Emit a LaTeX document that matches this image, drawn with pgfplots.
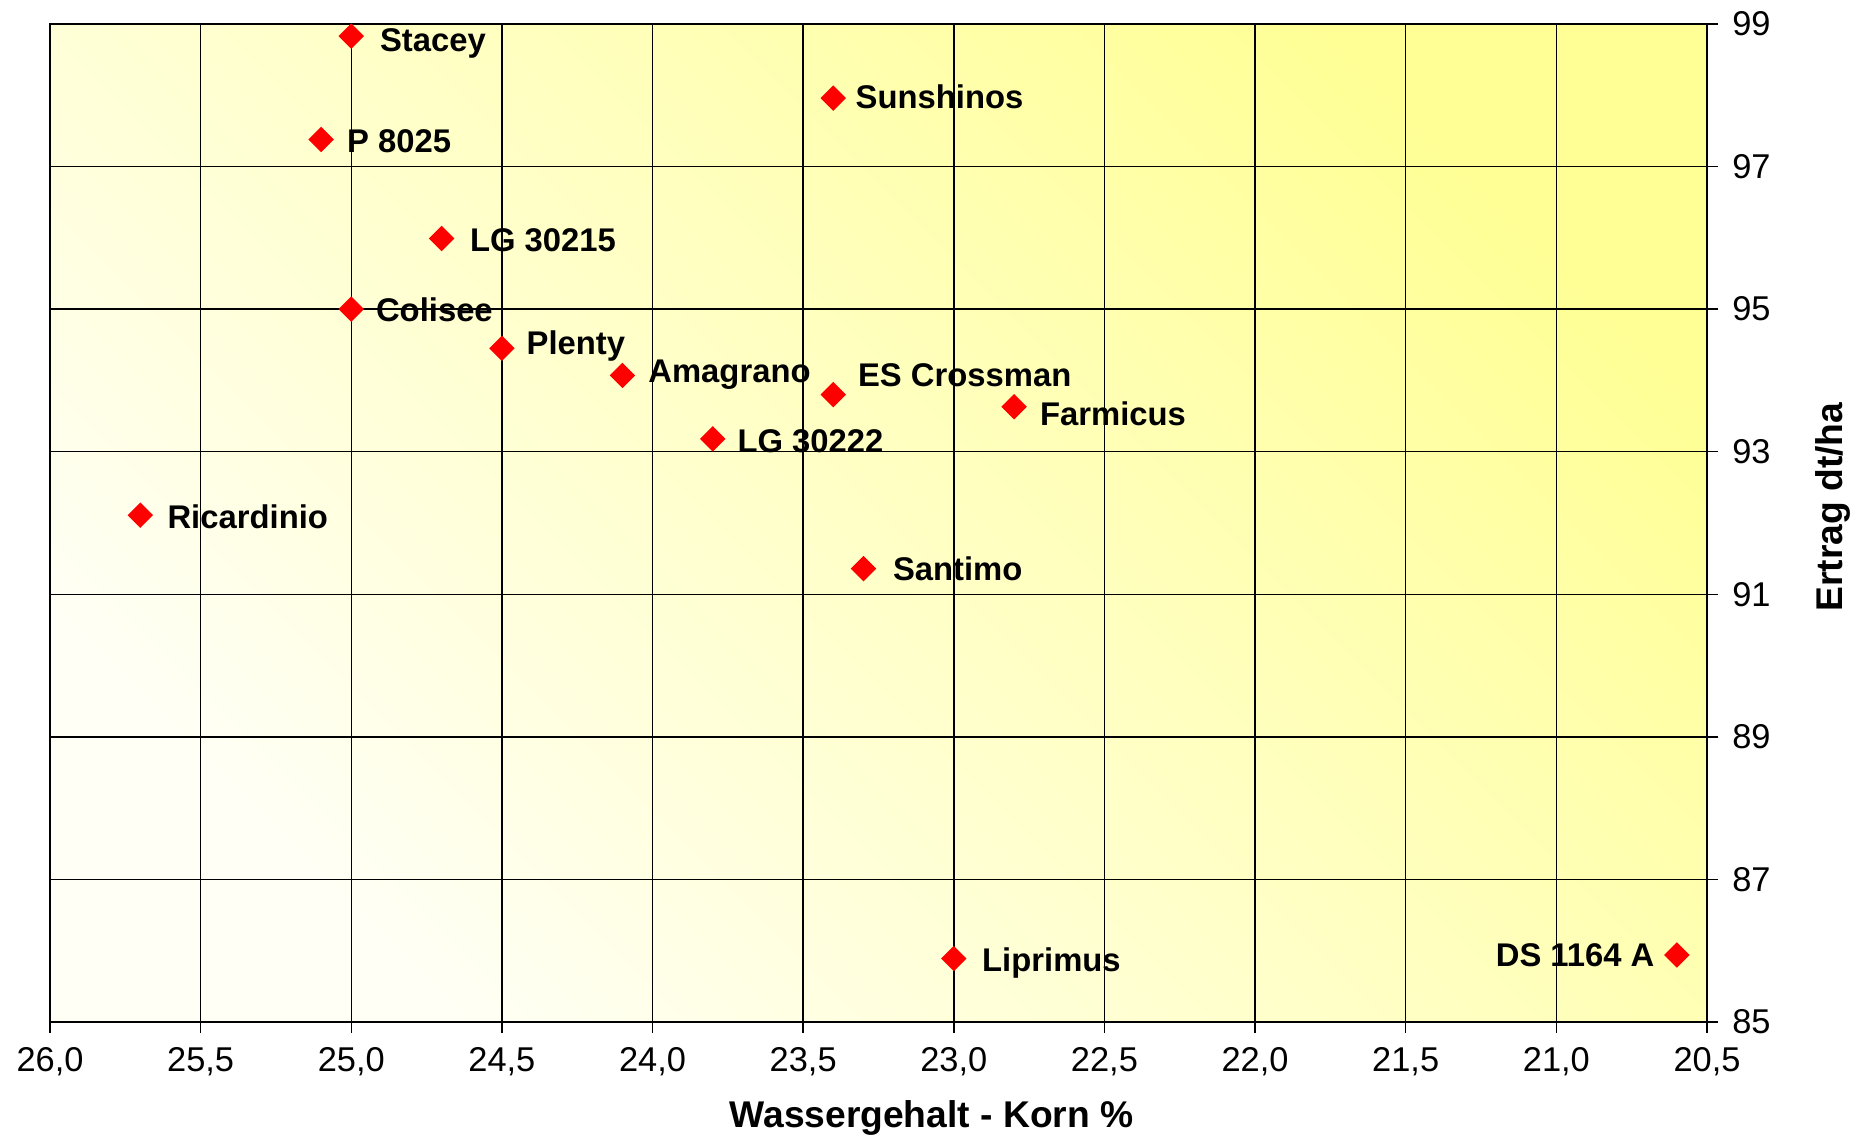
\documentclass[border=0pt]{standalone}
\usepackage{fontspec}
\setmainfont{Liberation Sans}
\usepackage{pgfplots}
\usepackage{pgfplotstable}
\pgfplotsset{compat=1.18}
\definecolor{bgA}{RGB}{255,255,246}
\definecolor{bgB}{RGB}{255,255,150}
\pgfplotstableread[col sep=comma]{
x,y,label,dx,dy
25.0,98.83,Stacey,7,-0.15
23.4,97.96,Sunshinos,5.4,1.05
25.1,97.38,P 8025,6.3,0.45
24.7,95.99,LG 30215,6.9,0.45
25.0,95.00,Colisee,6,0.45
24.5,94.45,Plenty,6,1.95
24.1,94.07,Amagrano,6.3,1.95
23.4,93.80,ES Crossman,6,5.75
22.8,93.63,Farmicus,6.3,-1.05
23.8,93.18,LG 30222,6,0.15
25.7,92.11,Ricardinio,6.6,0.15
23.3,91.36,Santimo,7.2,0.75
23.0,85.89,Liprimus,6.9,0.45
}\mainpts
\pgfplotstableread[col sep=comma]{
x,y,label,dx,dy
20.6,85.94,DS 1164 A,-5.4,0.75
}\leftpts
\begin{document}
\begin{tikzpicture}
\begin{axis}[
  name=ax,
  scale only axis,
  width=414.25pt, height=249.5pt,
  x dir=reverse,
  xmin=20.5, xmax=26, ymin=85, ymax=99,
  xtick={20.5,21,21.5,22,22.5,23,23.5,24,24.5,25,25.5,26},
  ytick={85,87,89,91,93,95,97,99},
  xtick pos=bottom, ytick pos=right,
  yticklabel pos=right,
  tick align=outside,
  major tick length=2.8pt,
  tick style={black, line width=0.35pt},
  axis line style={black, line width=0.5pt},
  grid=major,
  major grid style={black, line width=0.35pt},
  axis background/.style={shade, top color=bgB, bottom color=bgA, shading angle=-45},
  /pgf/number format/assume math mode=true,
  xticklabel style={/pgf/number format/.cd, fixed, fixed zerofill, precision=1, use comma},
  yticklabel style={/pgf/number format/.cd, fixed, precision=0},
  ticklabel style={font=\fontsize{8.6}{10}\selectfont},
  xlabel={Wassergehalt - Korn \%},
  ylabel={Ertrag dt/ha},
  label style={font=\bfseries\fontsize{9.3}{11}\selectfont},
  xlabel style={at={(axis description cs:0.532,-0.0962)}, anchor=center},
  ylabel style={at={(axis description cs:1.076,0.516)}, anchor=center},
  clip=false,
]
\addplot[only marks, mark=square*, mark size=2.05pt, color=red,
  every mark/.append style={rotate=45},
  nodes near coords, point meta=explicit symbolic,
  visualization depends on={\thisrow{dx}\as\dx},
  visualization depends on={\thisrow{dy}\as\dy},
  nodes near coords style={font=\bfseries\fontsize{8.2}{9}\selectfont, text=black,
    anchor=west, inner sep=0pt, text height=0.72em, text depth=0pt,
    xshift=\dx pt, yshift=\dy pt}]
  table[x=x, y=y, meta=label] {\mainpts};
\addplot[only marks, mark=square*, mark size=2.05pt, color=red,
  every mark/.append style={rotate=45},
  nodes near coords, point meta=explicit symbolic,
  visualization depends on={\thisrow{dx}\as\dx},
  visualization depends on={\thisrow{dy}\as\dy},
  nodes near coords style={font=\bfseries\fontsize{8.2}{9}\selectfont, text=black,
    anchor=east, inner sep=0pt, text height=0.72em, text depth=0pt,
    xshift=\dx pt, yshift=\dy pt}]
  table[x=x, y=y, meta=label] {\leftpts};
\end{axis}
\pgfresetboundingbox
\path[use as bounding box] ([xshift=-12.5pt,yshift=-29.75pt]ax.south west) rectangle ([xshift=40.75pt,yshift=6pt]ax.north east);
\end{tikzpicture}
\end{document}
